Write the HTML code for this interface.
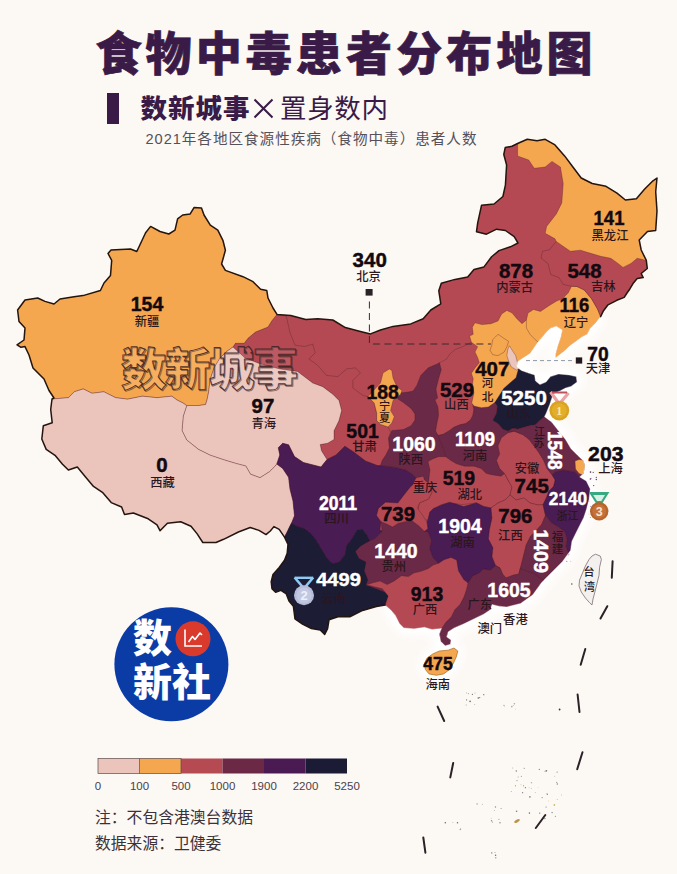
<!DOCTYPE html>
<html lang="zh-CN">
<head>
<meta charset="utf-8">
<title>食物中毒患者分布地图</title>
<style>
html,body{margin:0;padding:0;background:#fcf8f4;}
body{width:677px;height:874px;overflow:hidden;position:relative;font-family:"Liberation Sans", "Noto Sans CJK SC", sans-serif;}
svg{position:absolute;left:0;top:0;display:block;}
text{font-family:"Liberation Sans", "Noto Sans CJK SC", sans-serif;}
.num{font-weight:700;font-size:20.5px;text-anchor:middle;}
.nm{font-size:12.3px;font-weight:500;text-anchor:middle;fill:#2a161c;}
.w{fill:#fff;stroke:#fff;stroke-width:0.45px;}
.k{fill:#120a10;stroke:#120a10;stroke-width:0.45px;}
</style>
</head>
<body>
<svg width="677" height="874" viewBox="0 0 677 874">
<defs>
<clipPath id="cn"><polygon points="52.0,399.0 54.0,398.0 49.0,390.5 44.0,379.0 33.0,368.0 29.0,355.0 25.0,346.6 21.0,347.3 17.0,344.8 24.0,340.0 25.0,328.0 19.0,321.5 17.6,310.0 25.0,300.0 37.7,298.0 45.0,301.4 54.0,304.0 60.0,299.0 74.0,296.7 83.0,295.6 100.4,290.5 104.0,283.0 110.5,275.4 111.7,260.3 108.0,253.5 111.0,250.0 130.5,249.0 136.8,251.5 145.6,232.7 150.6,226.4 160.0,231.5 168.8,234.0 175.0,230.2 177.6,218.9 182.7,215.0 190.2,213.9 194.0,207.6 201.5,208.0 204.0,215.0 210.3,225.2 217.8,230.2 222.9,240.3 225.4,250.3 221.6,264.0 225.4,270.4 243.0,276.7 253.0,281.7 260.6,289.2 266.8,290.5 268.0,298.0 273.0,308.0 277.0,314.4 290.7,315.6 305.8,319.4 317.7,318.8 332.8,320.0 345.3,327.6 360.4,331.4 370.5,333.9 380.5,330.0 393.0,326.4 410.7,323.9 423.2,318.8 430.8,310.0 440.8,303.8 438.8,290.8 441.3,283.2 455.0,279.4 467.7,277.0 474.0,269.4 484.0,266.9 491.6,256.8 499.0,250.6 510.4,246.8 518.0,243.0 514.2,236.7 505.4,230.5 496.6,229.2 486.5,234.2 476.5,231.7 477.7,222.9 481.5,205.3 494.0,204.0 502.9,196.5 505.4,185.2 506.6,165.0 503.8,154.5 505.2,147.6 512.0,146.2 517.6,143.5 527.3,139.3 537.0,140.7 545.2,139.3 555.0,144.9 564.6,155.9 572.9,167.0 581.2,178.0 592.2,183.5 606.0,186.3 617.0,193.2 625.4,200.0 636.4,198.7 644.7,189.0 653.0,180.8 657.0,178.0 655.7,191.8 657.0,211.0 655.7,230.5 647.5,231.5 639.2,240.0 641.2,250.0 646.3,260.4 647.3,268.5 641.2,273.5 643.2,277.6 637.2,278.6 633.0,283.6 630.0,288.7 627.0,293.0 624.2,297.4 616.8,300.3 608.0,304.8 603.5,310.7 600.6,316.6 596.0,322.5 590.2,328.4 587.3,334.3 581.4,337.3 575.5,341.7 569.5,346.0 565.0,350.6 559.2,355.0 555.5,358.0 555.5,354.0 557.7,346.0 560.7,337.3 562.2,329.9 556.2,326.2 550.3,328.4 547.0,331.4 542.6,336.7 538.0,342.0 533.7,348.3 530.0,353.6 523.0,358.0 517.7,361.6 516.8,366.9 521.3,370.4 528.4,373.0 534.6,374.9 535.5,381.0 539.9,384.6 546.0,382.0 550.5,376.6 558.5,374.0 569.0,374.9 576.2,376.6 577.0,382.0 571.0,386.4 565.6,388.0 560.3,390.8 553.3,393.7 549.8,404.3 546.2,413.2 544.5,416.7 551.6,422.0 558.7,431.0 565.7,439.8 571.0,448.7 578.0,455.7 583.5,461.0 585.0,465.4 583.7,473.2 579.7,477.0 586.3,481.0 590.2,488.9 589.0,499.3 586.3,509.8 583.7,517.6 579.7,525.5 575.8,533.3 571.9,541.2 570.6,550.3 562.5,561.5 552.0,572.0 541.5,582.5 532.8,594.8 520.5,603.5 506.5,607.0 499.0,606.2 492.0,604.5 490.3,609.8 483.6,614.2 473.3,619.2 464.4,623.6 454.0,628.0 448.2,631.8 446.7,637.0 451.0,639.9 450.4,644.3 445.2,645.8 440.8,641.4 439.3,634.0 441.5,628.5 432.0,629.5 424.5,627.3 414.2,628.8 403.9,628.0 399.4,623.6 395.0,614.8 391.0,610.0 385.2,605.0 376.4,606.5 361.6,610.9 349.8,616.8 338.0,616.8 329.0,619.8 327.6,628.6 324.7,634.5 320.2,630.0 311.4,628.6 302.5,624.2 295.0,619.0 294.3,613.5 293.4,606.4 289.0,601.0 286.3,594.0 281.0,590.4 275.6,592.2 272.0,588.7 271.2,581.6 273.0,574.5 279.2,567.4 284.5,560.3 287.2,553.2 288.0,544.3 284.5,537.2 279.2,529.3 273.9,526.6 270.3,531.0 266.0,534.6 259.0,530.4 250.2,527.5 238.4,532.0 223.6,539.3 216.0,542.5 202.8,542.5 197.0,533.6 191.0,526.2 180.7,521.8 167.4,523.3 160.0,530.7 157.0,524.8 148.2,518.8 133.4,513.0 124.5,514.4 121.6,507.0 111.2,502.6 102.4,492.3 93.5,486.4 84.7,476.0 77.3,467.0 68.4,470.0 62.5,464.2 55.0,455.3 46.2,449.4 41.8,439.0 43.3,425.8 52.2,422.8 50.7,409.5"/></clipPath>
<filter id="glow" x="-10%" y="-10%" width="120%" height="120%"><feGaussianBlur stdDeviation="4"/></filter>
<filter id="soft" x="-5%" y="-5%" width="110%" height="110%"><feGaussianBlur stdDeviation="0.35"/></filter>
</defs>
<rect x="0" y="0" width="677" height="874" fill="#fcf8f4"/>

<g fill="#3a1b47">
<text x="344" y="70.3" text-anchor="middle" font-size="46" font-weight="900" stroke="#3a1b47" stroke-width="0.7" textLength="497" lengthAdjust="spacing">食物中毒患者分布地图</text>
<rect x="107" y="93" width="12" height="31"/>
<text x="140.5" y="118" font-size="26.5" font-weight="900" textLength="109" lengthAdjust="spacing">数新城事</text>
<path d="M254.5 99.5 L272.5 117.5 M272.5 99.5 L254.5 117.5" stroke="#3a1b47" stroke-width="2" fill="none"/>
<text x="280" y="118" font-size="26.5" font-weight="400" textLength="108" lengthAdjust="spacing">置身数内</text>
</g>
<text x="145.5" y="144" font-size="14.6" fill="#55505a" textLength="331" lengthAdjust="spacing">2021年各地区食源性疾病（食物中毒）患者人数</text>

<g filter="url(#glow)"><polyline points="600.6,316.6 596.0,322.5 590.2,328.4 587.3,334.3 581.4,337.3 575.5,341.7 569.5,346.0 565.0,350.6 559.2,355.0 555.5,358.0 555.5,354.0 557.7,346.0 560.7,337.3 562.2,329.9 556.2,326.2 550.3,328.4 547.0,331.4 542.6,336.7 538.0,342.0 533.7,348.3 530.0,353.6 523.0,358.0 517.7,361.6 516.8,366.9 521.3,370.4 528.4,373.0 534.6,374.9 535.5,381.0 539.9,384.6 546.0,382.0 550.5,376.6 558.5,374.0 569.0,374.9 576.2,376.6 577.0,382.0 571.0,386.4 565.6,388.0 560.3,390.8 553.3,393.7 549.8,404.3 546.2,413.2 544.5,416.7 551.6,422.0 558.7,431.0 565.7,439.8 571.0,448.7 578.0,455.7 583.5,461.0 585.0,465.4 583.7,473.2 579.7,477.0 586.3,481.0 590.2,488.9 589.0,499.3 586.3,509.8 583.7,517.6 579.7,525.5 575.8,533.3 571.9,541.2 570.6,550.3 562.5,561.5 552.0,572.0 541.5,582.5 532.8,594.8 520.5,603.5 506.5,607.0 499.0,606.2 492.0,604.5 490.3,609.8 483.6,614.2 473.3,619.2 464.4,623.6 454.0,628.0 448.2,631.8 446.7,637.0 451.0,639.9 450.4,644.3 445.2,645.8 440.8,641.4 439.3,634.0 441.5,628.5 432.0,629.5 424.5,627.3 414.2,628.8 403.9,628.0 399.4,623.6 395.0,614.8 391.0,610.0 385.2,605.0" fill="none" stroke="#ffffff" stroke-width="15" stroke-linejoin="round" stroke-linecap="butt"/><polygon points="432.7,654.0 439.3,651.0 448.2,650.2 454.0,648.0 457.8,651.0 456.3,656.9 453.3,663.5 449.7,669.4 443.7,673.9 436.4,675.3 429.0,673.9 425.3,669.4 424.5,663.5 426.8,658.3" fill="#fff" stroke="#fff" stroke-width="12"/></g>
<g filter="url(#soft)">
<g clip-path="url(#cn)" stroke="#4a2028" stroke-opacity="0.55" stroke-width="0.6" stroke-linejoin="round">
<polygon points="52.0,399.0 54.0,398.0 49.0,390.5 44.0,379.0 33.0,368.0 29.0,355.0 25.0,346.6 21.0,347.3 17.0,344.8 24.0,340.0 25.0,328.0 19.0,321.5 17.6,310.0 25.0,300.0 37.7,298.0 45.0,301.4 54.0,304.0 60.0,299.0 74.0,296.7 83.0,295.6 100.4,290.5 104.0,283.0 110.5,275.4 111.7,260.3 108.0,253.5 111.0,250.0 130.5,249.0 136.8,251.5 145.6,232.7 150.6,226.4 160.0,231.5 168.8,234.0 175.0,230.2 177.6,218.9 182.7,215.0 190.2,213.9 194.0,207.6 201.5,208.0 204.0,215.0 210.3,225.2 217.8,230.2 222.9,240.3 225.4,250.3 221.6,264.0 225.4,270.4 243.0,276.7 253.0,281.7 260.6,289.2 266.8,290.5 268.0,298.0 273.0,308.0 277.0,314.4 290.7,315.6 305.8,319.4 317.7,318.8 332.8,320.0 345.3,327.6 360.4,331.4 370.5,333.9 380.5,330.0 393.0,326.4 410.7,323.9 423.2,318.8 430.8,310.0 440.8,303.8 438.8,290.8 441.3,283.2 455.0,279.4 467.7,277.0 474.0,269.4 484.0,266.9 491.6,256.8 499.0,250.6 510.4,246.8 518.0,243.0 514.2,236.7 505.4,230.5 496.6,229.2 486.5,234.2 476.5,231.7 477.7,222.9 481.5,205.3 494.0,204.0 502.9,196.5 505.4,185.2 506.6,165.0 503.8,154.5 505.2,147.6 512.0,146.2 517.6,143.5 527.3,139.3 537.0,140.7 545.2,139.3 555.0,144.9 564.6,155.9 572.9,167.0 581.2,178.0 592.2,183.5 606.0,186.3 617.0,193.2 625.4,200.0 636.4,198.7 644.7,189.0 653.0,180.8 657.0,178.0 655.7,191.8 657.0,211.0 655.7,230.5 647.5,231.5 639.2,240.0 641.2,250.0 646.3,260.4 647.3,268.5 641.2,273.5 643.2,277.6 637.2,278.6 633.0,283.6 630.0,288.7 627.0,293.0 624.2,297.4 616.8,300.3 608.0,304.8 603.5,310.7 600.6,316.6 596.0,322.5 590.2,328.4 587.3,334.3 581.4,337.3 575.5,341.7 569.5,346.0 565.0,350.6 559.2,355.0 555.5,358.0 555.5,354.0 557.7,346.0 560.7,337.3 562.2,329.9 556.2,326.2 550.3,328.4 547.0,331.4 542.6,336.7 538.0,342.0 533.7,348.3 530.0,353.6 523.0,358.0 517.7,361.6 516.8,366.9 521.3,370.4 528.4,373.0 534.6,374.9 535.5,381.0 539.9,384.6 546.0,382.0 550.5,376.6 558.5,374.0 569.0,374.9 576.2,376.6 577.0,382.0 571.0,386.4 565.6,388.0 560.3,390.8 553.3,393.7 549.8,404.3 546.2,413.2 544.5,416.7 551.6,422.0 558.7,431.0 565.7,439.8 571.0,448.7 578.0,455.7 583.5,461.0 585.0,465.4 583.7,473.2 579.7,477.0 586.3,481.0 590.2,488.9 589.0,499.3 586.3,509.8 583.7,517.6 579.7,525.5 575.8,533.3 571.9,541.2 570.6,550.3 562.5,561.5 552.0,572.0 541.5,582.5 532.8,594.8 520.5,603.5 506.5,607.0 499.0,606.2 492.0,604.5 490.3,609.8 483.6,614.2 473.3,619.2 464.4,623.6 454.0,628.0 448.2,631.8 446.7,637.0 451.0,639.9 450.4,644.3 445.2,645.8 440.8,641.4 439.3,634.0 441.5,628.5 432.0,629.5 424.5,627.3 414.2,628.8 403.9,628.0 399.4,623.6 395.0,614.8 391.0,610.0 385.2,605.0 376.4,606.5 361.6,610.9 349.8,616.8 338.0,616.8 329.0,619.8 327.6,628.6 324.7,634.5 320.2,630.0 311.4,628.6 302.5,624.2 295.0,619.0 294.3,613.5 293.4,606.4 289.0,601.0 286.3,594.0 281.0,590.4 275.6,592.2 272.0,588.7 271.2,581.6 273.0,574.5 279.2,567.4 284.5,560.3 287.2,553.2 288.0,544.3 284.5,537.2 279.2,529.3 273.9,526.6 270.3,531.0 266.0,534.6 259.0,530.4 250.2,527.5 238.4,532.0 223.6,539.3 216.0,542.5 202.8,542.5 197.0,533.6 191.0,526.2 180.7,521.8 167.4,523.3 160.0,530.7 157.0,524.8 148.2,518.8 133.4,513.0 124.5,514.4 121.6,507.0 111.2,502.6 102.4,492.3 93.5,486.4 84.7,476.0 77.3,467.0 68.4,470.0 62.5,464.2 55.0,455.3 46.2,449.4 41.8,439.0 43.3,425.8 52.2,422.8 50.7,409.5" fill="#b54a52" stroke="none"/>
<polygon points="286.3,316.0 290.0,332.7 295.0,345.2 305.0,346.5 312.7,344.0 315.2,352.8 308.9,359.0 317.7,365.3 326.5,375.4 337.8,376.6 346.6,369.0 355.4,367.8 360.4,372.9 352.9,380.4 352.9,388.0 363.0,395.5 368.0,396.7 374.2,403.0 376.7,413.0 376.7,420.6 380.5,424.4 388.0,426.9 390.6,432.0 388.6,438.0 389.5,447.9 386.0,455.0 382.4,460.3 380.6,465.6 377.3,465.5 365.4,461.0 353.6,452.0 344.8,446.2 336.0,455.0 327.0,459.5 321.5,450.8 320.2,444.5 327.7,443.2 334.0,439.4 334.0,430.7 339.0,420.6 341.6,410.6 339.0,400.5 332.8,394.2 322.7,386.7 312.7,383.0 297.6,371.5 280.0,369.0 262.0,364.5 245.0,358.0 233.0,347.0 233.0,347.0 235.4,343.3 244.2,343.3 248.0,338.2 255.5,332.0 268.0,327.0 271.9,320.7 277.0,314.4" fill="#b54a52"/>
<polygon points="0.0,150.0 300.0,150.0 300.0,300.0 277.0,314.4 271.9,320.7 268.0,327.0 255.5,332.0 248.0,338.2 244.2,343.3 235.4,343.3 233.0,347.0 226.0,352.0 220.0,358.0 214.0,368.0 210.0,380.0 208.7,391.8 207.0,400.0 205.6,404.5 199.0,405.5 190.0,405.5 186.7,405.6 183.0,403.0 177.0,400.0 171.8,396.2 157.0,397.7 142.3,396.2 127.5,399.2 115.7,397.7 103.9,391.8 92.0,393.3 83.2,388.9 74.3,391.8 68.4,397.7 52.2,399.0 0.0,399.0" fill="#f5a750"/>
<polygon points="186.7,405.6 190.0,405.5 199.0,405.5 205.6,404.5 207.0,400.0 208.7,391.8 210.0,380.0 214.0,368.0 220.0,358.0 226.0,352.0 233.0,347.0 245.0,358.0 262.0,364.5 280.0,369.0 297.6,371.5 312.7,383.0 322.7,386.7 332.8,394.2 339.0,400.5 341.6,410.6 339.0,420.6 334.0,430.7 334.0,439.4 327.7,443.2 320.2,444.5 321.5,450.8 327.0,459.5 321.0,467.0 303.4,462.5 294.5,456.6 288.6,444.8 282.7,443.3 278.3,447.7 279.8,455.0 276.8,464.0 275.3,466.0 269.4,471.8 260.0,477.7 250.5,474.2 245.8,466.0 236.4,463.6 224.5,460.0 210.4,455.3 198.5,449.4 186.7,440.0 182.0,430.5 183.2,416.3 186.7,405.6" fill="#ebc5bc"/>
<polygon points="52.2,399.0 68.4,397.7 74.3,391.8 83.2,388.9 92.0,393.3 103.9,391.8 115.7,397.7 127.5,399.2 142.3,396.2 157.0,397.7 171.8,396.2 177.0,400.0 183.0,403.0 186.7,405.6 183.2,416.3 182.0,430.5 186.7,440.0 198.5,449.4 210.4,455.3 224.5,460.0 236.4,463.6 245.8,466.0 250.5,474.2 260.0,477.7 269.4,471.8 275.3,466.0 276.8,464.0 282.7,468.4 288.6,477.3 290.0,489.0 293.0,501.0 294.5,515.7 291.6,523.0 289.8,526.6 287.2,532.0 284.5,537.2 290.0,560.0 0.0,560.0 0.0,399.0" fill="#ebc5bc"/>
<polygon points="439.5,362.7 443.0,361.0 446.6,359.0 450.0,353.8 455.5,349.4 462.5,346.7 471.4,342.3 490.0,350.0 490.0,410.0 472.9,404.7 474.0,409.5 472.9,415.4 470.6,420.0 465.8,423.6 460.0,424.8 454.0,427.2 449.3,430.7 443.4,434.3 438.0,435.5 425.0,420.0 425.0,380.0" fill="#b54a52"/>
<polygon points="439.5,362.7 441.3,369.8 438.6,378.7 436.0,389.3 437.7,398.0 435.0,400.0 438.0,407.0 438.6,415.4 436.9,423.6 435.7,430.7 438.0,435.5 442.0,445.0 445.0,453.0 445.7,456.7 438.6,456.7 432.7,459.0 430.0,470.0 428.5,483.3 424.5,480.0 423.2,476.2 416.0,478.0 412.6,474.5 405.5,470.0 394.8,467.4 380.6,465.6 382.4,460.3 386.0,455.0 389.5,447.9 388.6,438.0 390.0,435.3 391.8,430.5 403.3,429.5 411.0,425.7 414.9,420.0 414.9,414.0 411.0,408.4 403.3,402.6 397.6,398.8 399.5,393.0 408.0,392.0 413.0,391.0 416.8,385.4 420.7,375.4 428.2,367.8 437.0,364.0" fill="#6b2946"/>
<polygon points="389.3,369.0 383.0,372.9 380.5,383.0 374.0,390.0 368.0,396.7 374.2,403.0 376.7,413.0 376.7,420.6 380.5,424.4 388.0,426.9 391.8,423.0 394.3,416.8 390.6,410.6 393.0,400.5 400.6,394.2 401.9,390.5 396.8,386.7 393.0,377.9 391.8,370.4" fill="#f5a750"/>
<polygon points="438.0,435.5 443.4,434.3 449.3,430.7 454.0,427.2 460.0,424.8 465.8,423.6 470.6,420.0 472.9,415.4 474.0,409.5 472.9,404.7 473.5,398.0 520.0,398.0 520.0,440.0 510.0,482.0 440.0,472.0 445.7,456.7 445.0,453.0 442.0,445.0" fill="#6b2946"/>
<polygon points="506.9,310.4 501.6,313.9 498.0,321.0 490.9,323.7 482.0,324.6 475.0,322.8 472.3,327.2 473.2,334.3 469.6,336.0 471.4,342.3 477.6,346.7 475.0,352.0 477.6,357.4 479.4,362.7 475.0,368.0 471.4,373.3 473.2,378.7 472.3,385.7 474.0,392.8 471.7,403.0 474.0,406.0 481.2,407.7 488.3,407.0 493.0,403.8 494.8,402.6 530.0,395.0 545.0,340.0 540.0,320.0 526.4,320.0 522.0,323.7 516.6,318.4 512.2,313.0" fill="#f5a750"/>
<polygon points="498.0,334.3 503.3,337.9 508.6,341.4 506.9,346.7 504.2,352.0 498.0,355.6 492.7,354.7 490.0,350.3 491.8,345.0 492.7,339.6 495.4,337.0" fill="#f5a750"/>
<polygon points="509.5,345.8 512.2,350.3 515.7,355.6 517.5,362.7 520.0,368.0 516.6,370.0 511.3,367.0 508.6,361.0 506.9,355.6 507.8,349.4" fill="#ebc5bc"/>
<polygon points="571.5,286.2 568.3,292.8 562.3,298.8 556.7,301.0 549.3,305.5 540.4,311.4 533.5,309.5 528.0,313.0 526.4,320.0 526.4,328.0 530.0,334.3 535.2,339.6 538.0,342.0 555.0,364.0 625.0,335.0 625.0,310.0 600.6,316.6 597.6,309.2 591.7,298.9 584.3,290.0 577.0,286.5" fill="#f5a750"/>
<polygon points="556.3,241.5 549.4,249.8 542.5,251.2 541.0,258.0 548.0,263.6 550.8,274.7 559.0,277.5 563.2,284.4 568.7,285.7 571.5,286.2 577.0,286.5 584.3,290.0 591.7,298.9 597.6,309.2 600.6,316.6 615.0,322.0 670.0,300.0 670.0,230.0 600.0,230.0" fill="#b54a52"/>
<polygon points="517.6,143.5 517.6,156.0 528.7,160.0 534.2,168.3 545.2,167.0 552.0,161.4 560.4,167.0 563.2,183.5 561.8,202.9 556.3,214.0 546.6,226.4 545.2,233.3 555.0,238.8 556.3,241.5 560.2,244.2 570.4,251.3 580.5,250.2 590.6,253.3 600.7,256.3 610.8,258.3 618.0,263.4 623.0,267.4 631.0,263.4 637.2,258.3 646.3,260.4 670.0,262.0 670.0,120.0 510.0,120.0" fill="#f5a750"/>
<polygon points="518.4,369.0 516.0,377.7 509.9,383.0 503.7,388.4 499.3,395.5 494.8,402.6 497.5,406.0 496.6,413.2 493.0,420.3 498.4,423.8 502.8,429.0 508.0,431.0 512.6,428.3 517.9,429.0 523.2,427.4 530.3,425.6 535.6,424.7 540.0,420.3 544.5,416.7 560.0,420.0 590.0,390.0 590.0,360.0 530.0,360.0" fill="#1b1b36"/>
<polygon points="428.5,483.3 430.0,470.0 428.0,461.5 432.7,459.0 438.6,456.7 445.7,456.7 450.5,460.3 456.4,463.8 464.6,466.2 474.0,466.2 481.2,468.6 486.0,473.3 490.3,474.5 501.0,476.2 504.6,473.5 508.0,480.0 512.0,487.0 510.0,495.0 505.0,500.0 498.0,503.0 491.0,508.0 483.5,506.4 476.4,502.8 462.2,504.6 449.8,502.8 441.0,504.6 430.3,511.7 428.5,520.0 423.0,520.0 417.9,510.0 419.6,502.8 428.5,499.0 432.0,492.0" fill="#b54a52"/>
<polygon points="514.4,431.2 507.9,432.9 501.4,437.7 498.0,445.9 499.7,454.0 496.5,460.5 499.7,468.6 504.6,473.5 508.0,480.0 512.0,487.0 510.0,495.0 516.0,500.0 524.0,498.0 530.0,503.0 538.0,505.0 543.0,504.6 560.0,500.0 565.0,470.0 540.0,432.0 522.5,434.5" fill="#b54a52"/>
<polygon points="514.4,431.2 522.5,434.5 529.0,439.4 533.9,445.9 538.7,452.4 543.6,460.5 546.9,468.6 552.0,475.0 555.5,472.0 563.0,470.0 574.5,472.0 579.7,477.0 600.0,470.0 600.0,420.0 544.5,416.7 540.0,420.3 535.6,424.7 530.3,425.6 523.2,427.4 517.9,429.0 512.6,428.3 508.0,431.0" fill="#6b2946"/>
<polygon points="575.0,461.0 579.0,459.5 590.0,461.0 592.0,470.0 584.0,475.5 579.0,473.5 575.5,469.0" fill="#f5a750"/>
<polygon points="276.8,464.0 279.8,455.0 278.3,447.7 282.7,443.3 288.6,444.8 294.5,456.6 303.4,462.5 321.0,467.0 327.0,459.5 336.0,455.0 344.8,446.2 353.6,452.0 365.4,461.0 377.3,465.5 380.6,465.6 394.8,467.4 405.5,470.0 412.6,474.5 416.0,478.0 420.0,500.0 400.0,530.0 375.0,545.0 340.0,570.0 300.0,540.0 288.0,544.3 284.5,537.2 287.2,532.0 289.8,526.6 291.6,523.0 294.5,515.7 293.0,501.0 290.0,489.0 288.6,477.3 282.7,468.4" fill="#4a1a52"/>
<polygon points="416.0,478.0 423.2,476.2 424.5,480.0 428.5,483.3 432.0,492.0 428.5,499.0 419.6,502.8 417.5,508.0 422.7,515.5 427.0,522.0 428.0,528.8 424.5,531.4 420.0,536.0 400.0,536.0 380.0,530.0 381.0,521.7 376.6,515.5 378.4,508.4 385.5,502.2 397.9,503.0 403.2,496.0 410.3,487.0 412.6,485.0" fill="#b54a52"/>
<polygon points="427.0,522.0 428.0,519.0 429.8,512.0 433.3,508.4 442.2,504.8 449.3,502.2 456.4,504.0 463.5,506.6 476.4,502.8 483.5,506.4 491.0,508.0 500.0,510.0 500.0,575.0 480.0,592.0 450.0,582.0 435.0,572.0 420.0,550.0 420.0,535.0 424.5,531.4 428.0,528.8" fill="#4a1a52"/>
<polygon points="491.0,508.0 498.0,503.0 505.0,500.0 510.0,495.0 516.0,500.0 524.0,498.0 530.0,503.0 538.0,505.0 543.0,504.6 545.5,515.5 541.8,524.3 536.6,530.2 530.7,536.0 526.2,545.0 523.3,556.8 520.3,568.6 518.9,574.0 513.3,575.2 506.0,577.9 502.7,574.3 500.0,568.0 495.6,565.5 492.0,556.6 493.0,547.7 488.5,538.9 489.4,530.0 492.0,518.0" fill="#b54a52"/>
<polygon points="552.0,475.0 555.0,480.0 553.4,486.5 548.5,491.4 546.9,496.2 543.0,504.6 545.5,515.5 551.4,522.8 558.7,527.3 564.7,531.7 566.9,539.0 566.0,546.5 568.5,554.5 580.0,556.0 600.0,520.0 600.0,478.0 579.7,477.0 574.5,472.0 563.0,470.0 555.5,472.0" fill="#4a1a52"/>
<polygon points="545.5,515.5 551.4,522.8 558.7,527.3 564.7,531.7 566.9,539.0 566.0,546.5 568.5,554.5 590.0,570.0 560.0,595.0 520.0,585.0 518.9,576.0 520.3,568.6 523.3,556.8 526.2,545.0 530.7,536.0 536.6,530.2 541.8,524.3" fill="#6b2946"/>
<polygon points="369.6,540.8 374.8,538.5 382.0,531.4 381.0,521.7 387.2,524.3 392.6,527.0 397.9,523.4 405.0,521.7 412.0,520.8 419.0,526.0 424.5,531.4 428.0,531.4 431.6,540.3 429.8,549.0 433.3,558.0 438.7,563.3 436.0,576.0 400.0,592.0 370.0,594.0 350.0,580.0 350.0,548.0" fill="#6b2946"/>
<polygon points="291.6,523.0 297.0,526.6 304.0,528.4 311.0,533.7 316.4,540.8 321.7,549.6 327.0,558.5 332.4,563.8 339.5,562.0 344.8,555.0 346.6,546.0 351.9,539.0 357.2,530.0 362.5,529.3 367.0,535.5 369.6,540.8 360.7,546.0 355.4,551.4 359.0,558.5 366.0,562.0 364.3,571.0 367.8,579.8 366.0,585.0 395.0,596.0 395.0,640.0 260.0,640.0 260.0,552.0 288.0,544.3 284.5,537.2 287.2,532.0 289.8,526.6" fill="#1b1b36"/>
<polygon points="366.0,585.0 373.0,582.8 380.0,581.0 387.2,584.6 394.3,581.0 401.4,575.7 408.5,576.6 413.8,573.0 421.0,571.3 428.0,568.7 433.3,565.0 438.7,563.3 444.0,559.8 451.0,557.5 456.6,560.0 458.4,570.8 463.7,579.6 468.0,583.0 482.0,600.0 450.0,640.0 385.0,640.0 385.2,605.0 388.2,596.0 382.3,588.7 370.4,585.8" fill="#b54a52"/>
<polygon points="441.5,629.3 442.4,627.5 446.0,622.0 451.3,616.9 454.8,609.8 460.0,604.5 463.7,597.4 466.3,590.3 468.0,583.0 472.5,576.0 479.6,572.5 483.0,569.0 490.3,570.0 495.6,565.5 500.0,568.0 502.7,574.3 506.0,577.9 513.3,575.2 518.9,574.0 520.3,568.6 527.0,571.0 534.0,573.5 540.0,578.0 546.0,581.0 560.0,590.0 560.0,660.0 430.0,660.0 430.0,640.0" fill="#6b2946"/>
</g>
<polyline points="600.6,316.6 596.0,322.5 590.2,328.4 587.3,334.3 581.4,337.3 575.5,341.7 569.5,346.0 565.0,350.6 559.2,355.0 555.5,358.0 555.5,354.0 557.7,346.0 560.7,337.3 562.2,329.9 556.2,326.2 550.3,328.4 547.0,331.4 542.6,336.7 538.0,342.0 533.7,348.3 530.0,353.6 523.0,358.0 517.7,361.6 516.8,366.9 521.3,370.4 528.4,373.0 534.6,374.9 535.5,381.0 539.9,384.6 546.0,382.0 550.5,376.6 558.5,374.0 569.0,374.9 576.2,376.6 577.0,382.0 571.0,386.4 565.6,388.0 560.3,390.8 553.3,393.7 549.8,404.3 546.2,413.2 544.5,416.7 551.6,422.0 558.7,431.0 565.7,439.8 571.0,448.7 578.0,455.7 583.5,461.0 585.0,465.4 583.7,473.2 579.7,477.0 586.3,481.0 590.2,488.9 589.0,499.3 586.3,509.8 583.7,517.6 579.7,525.5 575.8,533.3 571.9,541.2 570.6,550.3 562.5,561.5 552.0,572.0 541.5,582.5 532.8,594.8 520.5,603.5 506.5,607.0 499.0,606.2 492.0,604.5 490.3,609.8 483.6,614.2 473.3,619.2 464.4,623.6 454.0,628.0 448.2,631.8 446.7,637.0 451.0,639.9 450.4,644.3 445.2,645.8 440.8,641.4 439.3,634.0 441.5,628.5 432.0,629.5 424.5,627.3 414.2,628.8 403.9,628.0 399.4,623.6 395.0,614.8 391.0,610.0 385.2,605.0" fill="none" stroke="#ffffff" stroke-opacity="0.55" stroke-width="0.8" stroke-linejoin="round"/>
<polyline points="385.2,605.0 376.4,606.5 361.6,610.9 349.8,616.8 338.0,616.8 329.0,619.8 327.6,628.6 324.7,634.5 320.2,630.0 311.4,628.6 302.5,624.2 295.0,619.0 294.3,613.5 293.4,606.4 289.0,601.0 286.3,594.0 281.0,590.4 275.6,592.2 272.0,588.7 271.2,581.6 273.0,574.5 279.2,567.4 284.5,560.3 287.2,553.2 288.0,544.3 284.5,537.2 279.2,529.3 273.9,526.6 270.3,531.0 266.0,534.6 259.0,530.4 250.2,527.5 238.4,532.0 223.6,539.3 216.0,542.5 202.8,542.5 197.0,533.6 191.0,526.2 180.7,521.8 167.4,523.3 160.0,530.7 157.0,524.8 148.2,518.8 133.4,513.0 124.5,514.4 121.6,507.0 111.2,502.6 102.4,492.3 93.5,486.4 84.7,476.0 77.3,467.0 68.4,470.0 62.5,464.2 55.0,455.3 46.2,449.4 41.8,439.0 43.3,425.8 52.2,422.8 50.7,409.5 52.0,399.0 54.0,398.0 49.0,390.5 44.0,379.0 33.0,368.0 29.0,355.0 25.0,346.6 21.0,347.3 17.0,344.8 24.0,340.0 25.0,328.0 19.0,321.5 17.6,310.0 25.0,300.0 37.7,298.0 45.0,301.4 54.0,304.0 60.0,299.0 74.0,296.7 83.0,295.6 100.4,290.5 104.0,283.0 110.5,275.4 111.7,260.3 108.0,253.5 111.0,250.0 130.5,249.0 136.8,251.5 145.6,232.7 150.6,226.4 160.0,231.5 168.8,234.0 175.0,230.2 177.6,218.9 182.7,215.0 190.2,213.9 194.0,207.6 201.5,208.0 204.0,215.0 210.3,225.2 217.8,230.2 222.9,240.3 225.4,250.3 221.6,264.0 225.4,270.4 243.0,276.7 253.0,281.7 260.6,289.2 266.8,290.5 268.0,298.0 273.0,308.0 277.0,314.4 290.7,315.6 305.8,319.4 317.7,318.8 332.8,320.0 345.3,327.6 360.4,331.4 370.5,333.9 380.5,330.0 393.0,326.4 410.7,323.9 423.2,318.8 430.8,310.0 440.8,303.8 438.8,290.8 441.3,283.2 455.0,279.4 467.7,277.0 474.0,269.4 484.0,266.9 491.6,256.8 499.0,250.6 510.4,246.8 518.0,243.0 514.2,236.7 505.4,230.5 496.6,229.2 486.5,234.2 476.5,231.7 477.7,222.9 481.5,205.3 494.0,204.0 502.9,196.5 505.4,185.2 506.6,165.0 503.8,154.5 505.2,147.6 512.0,146.2 517.6,143.5 527.3,139.3 537.0,140.7 545.2,139.3 555.0,144.9 564.6,155.9 572.9,167.0 581.2,178.0 592.2,183.5 606.0,186.3 617.0,193.2 625.4,200.0 636.4,198.7 644.7,189.0 653.0,180.8 657.0,178.0 655.7,191.8 657.0,211.0 655.7,230.5 647.5,231.5 639.2,240.0 641.2,250.0 646.3,260.4 647.3,268.5 641.2,273.5 643.2,277.6 637.2,278.6 633.0,283.6 630.0,288.7 627.0,293.0 624.2,297.4 616.8,300.3 608.0,304.8 603.5,310.7 600.6,316.6" fill="none" stroke="#24140f" stroke-width="1.5" stroke-linejoin="round" stroke-linecap="round"/>
<polygon points="432.7,654.0 439.3,651.0 448.2,650.2 454.0,648.0 457.8,651.0 456.3,656.9 453.3,663.5 449.7,669.4 443.7,673.9 436.4,675.3 429.0,673.9 425.3,669.4 424.5,663.5 426.8,658.3" fill="#f5a750" stroke="#a86a2a" stroke-width="0.7" stroke-linejoin="round"/>
<polygon points="595.5,554.2 600.2,556.0 601.4,559.5 599.6,567.2 599.0,575.5 596.6,585.0 594.9,592.0 593.0,599.0 592.0,605.0 589.5,602.6 585.4,598.0 581.3,592.0 579.0,586.0 579.5,580.2 582.5,573.0 585.4,566.0 589.0,559.5 592.0,556.0" fill="#f3f0ee" stroke="#7a7078" stroke-width="0.8" stroke-linejoin="round"/>
<line x1="612.6" y1="561.3" x2="611.8" y2="577.8" stroke="#2a2228" stroke-width="2" stroke-linecap="round"/>
<line x1="607.3" y1="606.2" x2="600.5" y2="618.5" stroke="#2a2228" stroke-width="2" stroke-linecap="round"/>
<line x1="585.3" y1="649" x2="580.7" y2="664.8" stroke="#2a2228" stroke-width="2" stroke-linecap="round"/>
<line x1="577.6" y1="694.5" x2="579.5" y2="712" stroke="#2a2228" stroke-width="2" stroke-linecap="round"/>
<line x1="582.5" y1="752.3" x2="577.2" y2="769.2" stroke="#2a2228" stroke-width="2" stroke-linecap="round"/>
<line x1="437.6" y1="706.6" x2="444.2" y2="721" stroke="#2a2228" stroke-width="2" stroke-linecap="round"/>
<line x1="453.2" y1="763" x2="450.3" y2="777.4" stroke="#2a2228" stroke-width="2" stroke-linecap="round"/>
<line x1="545.3" y1="815" x2="535.8" y2="828" stroke="#2a2228" stroke-width="2" stroke-linecap="round"/>
<line x1="423.3" y1="837.5" x2="425.4" y2="852.7" stroke="#2a2228" stroke-width="2" stroke-linecap="round"/>
</g>
<g><circle cx="472.4" cy="694.3" r="0.64" fill="#4a4448" fill-opacity="0.8"/><circle cx="466.7" cy="700.0" r="0.51" fill="#4a4448" fill-opacity="0.8"/><circle cx="466.3" cy="699.6" r="0.37" fill="#4a4448" fill-opacity="0.8"/><circle cx="475.0" cy="693.0" r="0.39" fill="#4a4448" fill-opacity="0.8"/><circle cx="474.8" cy="704.4" r="0.41" fill="#4a4448" fill-opacity="0.8"/><circle cx="470.1" cy="701.4" r="0.78" fill="#4a4448" fill-opacity="0.8"/><circle cx="478.3" cy="698.0" r="0.79" fill="#4a4448" fill-opacity="0.8"/><circle cx="466.1" cy="704.9" r="0.48" fill="#4a4448" fill-opacity="0.8"/><circle cx="468.3" cy="693.8" r="0.49" fill="#4a4448" fill-opacity="0.8"/><circle cx="483.8" cy="694.7" r="0.61" fill="#4a4448" fill-opacity="0.8"/><circle cx="479.7" cy="697.6" r="0.60" fill="#4a4448" fill-opacity="0.8"/><circle cx="466.4" cy="692.9" r="0.44" fill="#4a4448" fill-opacity="0.8"/><circle cx="513.6" cy="705.6" r="0.49" fill="#4a4448" fill-opacity="0.45"/><circle cx="512.0" cy="705.9" r="0.48" fill="#4a4448" fill-opacity="0.45"/><circle cx="515.5" cy="709.1" r="0.46" fill="#4a4448" fill-opacity="0.45"/><circle cx="511.8" cy="706.8" r="0.74" fill="#4a4448" fill-opacity="0.45"/><circle cx="514.4" cy="703.7" r="0.79" fill="#4a4448" fill-opacity="0.45"/><circle cx="504.0" cy="705.4" r="0.69" fill="#4a4448" fill-opacity="0.45"/><circle cx="504.6" cy="706.4" r="0.37" fill="#4a4448" fill-opacity="0.45"/><circle cx="546.1" cy="807.0" r="0.61" fill="#4a4448" fill-opacity="0.7"/><circle cx="557.3" cy="784.0" r="0.66" fill="#4a4448" fill-opacity="0.7"/><circle cx="542.1" cy="797.6" r="0.56" fill="#4a4448" fill-opacity="0.7"/><circle cx="555.4" cy="816.2" r="0.56" fill="#4a4448" fill-opacity="0.7"/><circle cx="545.9" cy="771.1" r="0.67" fill="#4a4448" fill-opacity="0.7"/><circle cx="544.9" cy="818.6" r="0.72" fill="#4a4448" fill-opacity="0.7"/><circle cx="525.4" cy="787.7" r="0.65" fill="#4a4448" fill-opacity="0.7"/><circle cx="511.2" cy="791.5" r="0.43" fill="#4a4448" fill-opacity="0.7"/><circle cx="516.3" cy="771.0" r="0.70" fill="#4a4448" fill-opacity="0.7"/><circle cx="517.0" cy="780.6" r="0.53" fill="#4a4448" fill-opacity="0.7"/><circle cx="557.1" cy="772.1" r="0.55" fill="#4a4448" fill-opacity="0.7"/><circle cx="539.7" cy="813.1" r="0.72" fill="#4a4448" fill-opacity="0.7"/><circle cx="556.7" cy="782.2" r="0.54" fill="#4a4448" fill-opacity="0.7"/><circle cx="529.4" cy="813.1" r="0.78" fill="#4a4448" fill-opacity="0.7"/><circle cx="518.1" cy="777.0" r="0.45" fill="#4a4448" fill-opacity="0.7"/><circle cx="522.6" cy="792.7" r="0.62" fill="#4a4448" fill-opacity="0.7"/><circle cx="524.2" cy="768.2" r="0.54" fill="#4a4448" fill-opacity="0.7"/><circle cx="529.9" cy="796.9" r="0.78" fill="#4a4448" fill-opacity="0.7"/><circle cx="547.3" cy="794.3" r="0.63" fill="#4a4448" fill-opacity="0.7"/><circle cx="546.5" cy="770.8" r="0.75" fill="#4a4448" fill-opacity="0.7"/><circle cx="552.1" cy="812.6" r="0.71" fill="#4a4448" fill-opacity="0.7"/><circle cx="531.2" cy="788.3" r="0.40" fill="#4a4448" fill-opacity="0.7"/><circle cx="544.3" cy="771.2" r="0.38" fill="#4a4448" fill-opacity="0.7"/><circle cx="521.3" cy="776.3" r="0.50" fill="#4a4448" fill-opacity="0.7"/><circle cx="512.8" cy="768.0" r="0.42" fill="#4a4448" fill-opacity="0.7"/><circle cx="515.5" cy="786.5" r="0.36" fill="#4a4448" fill-opacity="0.7"/><circle cx="557.2" cy="799.3" r="0.42" fill="#4a4448" fill-opacity="0.7"/><circle cx="523.6" cy="785.7" r="0.51" fill="#4a4448" fill-opacity="0.7"/><circle cx="516.6" cy="811.3" r="0.80" fill="#4a4448" fill-opacity="0.7"/><circle cx="535.2" cy="792.7" r="0.39" fill="#4a4448" fill-opacity="0.7"/><circle cx="515.5" cy="785.5" r="0.47" fill="#4a4448" fill-opacity="0.7"/><circle cx="554.8" cy="776.2" r="0.36" fill="#4a4448" fill-opacity="0.7"/><circle cx="561.4" cy="794.9" r="0.42" fill="#4a4448" fill-opacity="0.7"/><circle cx="539.3" cy="769.4" r="0.59" fill="#4a4448" fill-opacity="0.7"/><circle cx="554.2" cy="805.2" r="0.66" fill="#c9a24a" fill-opacity="0.8"/><circle cx="529.1" cy="787.8" r="0.43" fill="#c9a24a" fill-opacity="0.8"/><circle cx="547.0" cy="793.6" r="0.70" fill="#c9a24a" fill-opacity="0.8"/><circle cx="531.5" cy="782.8" r="0.72" fill="#c9a24a" fill-opacity="0.8"/><circle cx="554.5" cy="804.8" r="0.71" fill="#c9a24a" fill-opacity="0.8"/><circle cx="548.6" cy="800.9" r="0.45" fill="#c9a24a" fill-opacity="0.8"/><circle cx="538.1" cy="787.4" r="0.36" fill="#c9a24a" fill-opacity="0.8"/><circle cx="521.0" cy="784.8" r="0.47" fill="#c9a24a" fill-opacity="0.8"/><circle cx="492.5" cy="822.0" r="0.55" fill="#4a4448" fill-opacity="0.6"/><circle cx="500.0" cy="822.7" r="0.78" fill="#4a4448" fill-opacity="0.6"/><circle cx="482.3" cy="804.3" r="0.45" fill="#4a4448" fill-opacity="0.6"/><circle cx="477.1" cy="803.9" r="0.63" fill="#4a4448" fill-opacity="0.6"/><circle cx="498.9" cy="819.2" r="0.57" fill="#4a4448" fill-opacity="0.6"/><circle cx="491.2" cy="818.2" r="0.39" fill="#4a4448" fill-opacity="0.6"/><circle cx="491.5" cy="820.8" r="0.70" fill="#4a4448" fill-opacity="0.6"/><circle cx="494.3" cy="810.5" r="0.43" fill="#4a4448" fill-opacity="0.6"/><circle cx="495.5" cy="807.0" r="0.71" fill="#4a4448" fill-opacity="0.6"/><circle cx="501.1" cy="808.5" r="0.53" fill="#4a4448" fill-opacity="0.6"/><circle cx="460.0" cy="829.7" r="0.43" fill="#4a4448" fill-opacity="0.8"/><circle cx="445.3" cy="822.8" r="0.76" fill="#4a4448" fill-opacity="0.8"/><circle cx="457.5" cy="822.8" r="0.72" fill="#4a4448" fill-opacity="0.8"/><circle cx="460.6" cy="828.9" r="0.51" fill="#4a4448" fill-opacity="0.8"/><circle cx="452.9" cy="822.6" r="0.36" fill="#4a4448" fill-opacity="0.8"/><circle cx="495.8" cy="857.8" r="0.59" fill="#4a4448" fill-opacity="0.8"/><circle cx="495.6" cy="855.2" r="0.74" fill="#4a4448" fill-opacity="0.8"/><circle cx="495.0" cy="852.5" r="0.46" fill="#4a4448" fill-opacity="0.8"/><circle cx="491.8" cy="852.9" r="0.61" fill="#4a4448" fill-opacity="0.8"/><circle cx="559.6" cy="709.5" r="0.9" fill="#3a3438"/><circle cx="571.8" cy="584" r="0.8" fill="#5a5458"/><ellipse cx="517" cy="821" rx="3.2" ry="1.3" transform="rotate(-30 517 821)" fill="#b8954a"/><circle cx="591.1" cy="478.3" r="0.47" fill="#4a1a52" fill-opacity="0.9"/><circle cx="596.3" cy="477.3" r="0.63" fill="#4a1a52" fill-opacity="0.9"/><circle cx="593.7" cy="485.6" r="0.61" fill="#4a1a52" fill-opacity="0.9"/><circle cx="596.3" cy="479.5" r="0.67" fill="#4a1a52" fill-opacity="0.9"/><circle cx="593.2" cy="472.3" r="0.62" fill="#4a1a52" fill-opacity="0.9"/><circle cx="590.5" cy="472.1" r="0.80" fill="#4a1a52" fill-opacity="0.9"/><circle cx="590.4" cy="479.1" r="0.76" fill="#4a1a52" fill-opacity="0.9"/><circle cx="588.9" cy="501.1" r="0.46" fill="#4a1a52" fill-opacity="0.8"/><circle cx="588.9" cy="514.0" r="0.33" fill="#4a1a52" fill-opacity="0.8"/><circle cx="588.9" cy="499.0" r="0.38" fill="#4a1a52" fill-opacity="0.8"/><circle cx="590.4" cy="506.2" r="0.47" fill="#4a1a52" fill-opacity="0.8"/><circle cx="590.3" cy="517.5" r="0.43" fill="#4a1a52" fill-opacity="0.8"/><circle cx="568.1" cy="555.1" r="0.45" fill="#6b2946" fill-opacity="0.8"/><circle cx="568.9" cy="554.3" r="0.46" fill="#6b2946" fill-opacity="0.8"/><circle cx="566.8" cy="561.2" r="0.51" fill="#6b2946" fill-opacity="0.8"/><circle cx="570.8" cy="561.2" r="0.38" fill="#6b2946" fill-opacity="0.8"/></g>
<g stroke="#3a2a30" stroke-width="1" fill="none" stroke-dasharray="7 4.5">
<path d="M369.4 301.5 V344 H491"/>
</g>
<path d="M526 360.6 H574" stroke="#8f9aa6" stroke-width="1" fill="none" stroke-dasharray="4 3"/>
<rect x="365.6" y="289" width="7" height="6.6" fill="#2a2226"/>
<rect x="575.8" y="357.4" width="6.4" height="6.2" fill="#221a1e"/>

<g font-size="45.5" font-weight="900" text-anchor="middle">
<text x="210.4" y="386.5" fill="none" stroke="#3f2322" stroke-opacity="0.6" stroke-width="1.0" stroke-linejoin="round" textLength="177" lengthAdjust="spacing">数新城事</text>
<text x="209.5" y="385.5" fill="#fff" fill-opacity="0.10" stroke="#3f2322" stroke-opacity="0.9" stroke-width="0.95" stroke-linejoin="round" textLength="177" lengthAdjust="spacing">数新城事</text>
</g>

<g>
<path d="M550.5 392 L559.3 404 L568.5 393" fill="none" stroke="#e9a3a6" stroke-width="3.2" stroke-linejoin="round"/>
<path d="M552 392.5 H567" stroke="#c0505a" stroke-width="2"/>
<circle cx="559.3" cy="410.6" r="9.9" fill="#d9a220"/>
<circle cx="559.3" cy="410.6" r="7.4" fill="#e2ae2c"/>
<text x="559.3" y="415.3" text-anchor="middle" font-size="12" font-weight="700" fill="#f8e7b0" style="font-family:'Liberation Serif',serif">1</text>
<path d="M294.6 577.5 L304 588.5 L313.2 577.5" fill="none" stroke="#8fcaf2" stroke-width="2.6" stroke-linejoin="round"/>
<path d="M294.6 577.8 H313.2" stroke="#8fcaf2" stroke-width="2.4"/>
<circle cx="304" cy="595.3" r="10" fill="#b7bcd9"/>
<circle cx="304" cy="595.3" r="7.6" fill="#c3c8e2"/>
<text x="304" y="600.2" text-anchor="middle" font-size="13" font-weight="700" fill="#eef0fa">2</text>
<path d="M588.8 492 H609.4 L602.5 503 H595.8 Z" fill="#37a982"/>
<path d="M593.2 495 H605 L601.3 501 H597 Z" fill="#d8f0e4"/>
<circle cx="599.2" cy="511.3" r="9.2" fill="#b7632a"/>
<circle cx="599.2" cy="511.3" r="6.9" fill="#c4713a"/>
<text x="599.2" y="516" text-anchor="middle" font-size="12.5" font-weight="700" fill="#f7e3d0">3</text>
</g>

<g>
<text class="num k" transform="translate(147 311) scale(0.95 1)">154</text>
<text class="num k" transform="translate(263 413) scale(1.00 1)">97</text>
<text class="num k" transform="translate(162 472) scale(1.00 1)">0</text>
<text class="num k" transform="translate(369.7 266.6) scale(1.00 1)">340</text>
<text class="num k" transform="translate(609 224.5) scale(0.90 1)">141</text>
<text class="num k" transform="translate(516 278) scale(1.00 1)">878</text>
<text class="num k" transform="translate(584.5 278) scale(1.00 1)">548</text>
<text class="num k" transform="translate(574.4 312.4) scale(0.90 1)">116</text>
<text class="num k" transform="translate(598 361) scale(0.94 1)">70</text>
<text class="num k" transform="translate(492.3 376) scale(1.00 1)">407</text>
<text class="num w" transform="translate(524 405) scale(1.00 1)">5250</text>
<text class="num k" transform="translate(457 397.3) scale(1.00 1)">529</text>
<text class="num k" transform="translate(382.7 399) scale(0.95 1)">188</text>
<text class="num k" transform="translate(362.6 438.3) scale(0.95 1)">501</text>
<text class="num w" transform="translate(414 450.7) scale(0.95 1)">1060</text>
<text class="num w" transform="translate(475 445.7) scale(0.90 1)">1109</text>
<text class="num k" transform="translate(531.7 493) scale(1.00 1)">745</text>
<text class="num k" transform="translate(458.9 485.3) scale(0.95 1)">519</text>
<text class="num k" transform="translate(398 520.5) scale(1.00 1)">739</text>
<text class="num w" style="font-size:19.6px" transform="translate(338 509.8) scale(0.90 1)">2011</text>
<text class="num w" transform="translate(460 533) scale(0.95 1)">1904</text>
<text class="num k" transform="translate(515.4 523) scale(1.00 1)">796</text>
<text class="num w" transform="translate(396 558.2) scale(0.95 1)">1440</text>
<text class="num k" transform="translate(427 601) scale(0.95 1)">913</text>
<text class="num w" transform="translate(509 597) scale(0.95 1)">1605</text>
<text class="num w" style="font-size:18.8px" transform="translate(338.5 586.4) scale(1.07 1)">4499</text>
<text class="num w" style="font-size:18.2px" transform="translate(568 505.3) scale(0.95 1)">2140</text>
<text class="num k" style="font-size:20px" transform="translate(605.8 461) scale(1.06 1)">203</text>
<text class="num k" style="font-size:17.6px" transform="translate(438 669.8) scale(1.00 1)">475</text>
<text class="num w" transform="translate(548 450.3) rotate(90) scale(0.85 1)" x="0" y="0">1548</text>
<text class="num w" transform="translate(534 551) rotate(90) scale(0.96 1)" x="0" y="0">1409</text>
<text class="nm" x="147" y="325.7">新疆</text>
<text class="nm" x="263.7" y="428.2">青海</text>
<text class="nm" x="162.5" y="486.8">西藏</text>
<text class="nm" x="368.6" y="280.8">北京</text>
<text class="nm" x="610" y="239.5">黑龙江</text>
<text class="nm" x="514.6" y="292.3">内蒙古</text>
<text class="nm" x="603.3" y="290.8">吉林</text>
<text class="nm" x="576" y="326.6">辽宁</text>
<text class="nm" x="598" y="372.8">天津</text>
<text class="nm" x="487.5" y="386.8" style="font-size:11.6px">河</text>
<text class="nm" x="487.5" y="401.2" style="font-size:11.6px">北</text>
<text class="nm" x="519" y="418">山东</text>
<text class="nm" x="456.4" y="409.4">山西</text>
<text class="nm" x="384.5" y="409.6" style="font-size:11.2px">宁</text>
<text class="nm" x="384.5" y="421.6" style="font-size:11.2px">夏</text>
<text class="nm" x="364.6" y="450.6">甘肃</text>
<text class="nm" x="410.8" y="464.3">陕西</text>
<text class="nm" x="475" y="459.8">河南</text>
<text class="nm" x="527" y="473.2">安徽</text>
<text class="nm" x="469.7" y="499.4">湖北</text>
<text class="nm" x="425" y="492">重庆</text>
<text class="nm" x="336.6" y="522.5">四川</text>
<text class="nm" x="462.6" y="547">湖南</text>
<text class="nm" x="510.4" y="539.6">江西</text>
<text class="nm" x="393.8" y="571.3">贵州</text>
<text class="nm" x="425" y="614">广西</text>
<text class="nm" x="479.7" y="608.5">广东</text>
<text class="nm" x="333.8" y="603">云南</text>
<text class="nm" x="567.5" y="519.8" style="font-size:10.8px">浙江</text>
<text class="nm" x="610.5" y="473.2">上海</text>
<text class="nm" x="539.6" y="436.3" style="font-size:10.8px">江</text>
<text class="nm" x="539" y="446.8" style="font-size:10.8px">苏</text>
<text class="nm" x="557.6" y="540.8" style="font-size:11.6px">福</text>
<text class="nm" x="557.6" y="553.2" style="font-size:11.6px">建</text>
<text class="nm" x="437.8" y="688.6">海南</text>
<text class="nm" x="515.4" y="624">香港</text>
<text class="nm" x="489.8" y="632.6">澳门</text>
<text class="nm" x="589" y="576.3" style="font-size:11px">台</text>
<text class="nm" x="589.5" y="590.8" style="font-size:11px">湾</text>
</g>
<g>
<circle cx="171.4" cy="664.3" r="57" fill="#0b3ca6"/>
<text x="152.6" y="651.5" text-anchor="middle" font-size="39" font-weight="900" fill="#fff">数</text>
<text x="172" y="695.5" text-anchor="middle" font-size="39" font-weight="900" fill="#fff">新社</text>
<circle cx="193" cy="638.8" r="17.5" fill="#d93a2b"/>
<path d="M185 629.5 V646 H202" fill="none" stroke="#fff" stroke-width="1.6"/>
<path d="M188.5 642 L192.5 636.5 L195 639.5 L200 633 L202 635" fill="none" stroke="#fff" stroke-width="1.6" stroke-linejoin="round"/>
</g>

<g>
<rect x="98.0" y="758.5" width="41.5" height="15" fill="#ebc5bc"/>
<rect x="139.5" y="758.5" width="41.5" height="15" fill="#f5a750"/>
<rect x="181.0" y="758.5" width="41.5" height="15" fill="#b54a52"/>
<rect x="222.5" y="758.5" width="41.5" height="15" fill="#6b2946"/>
<rect x="264.0" y="758.5" width="41.5" height="15" fill="#4a1a52"/>
<rect x="305.5" y="758.5" width="41.5" height="15" fill="#1b1b36"/>
<rect x="98" y="758.5" width="83.0" height="15" fill="none" stroke="#5a4a4a" stroke-width="0.7"/>
<line x1="139.5" y1="758.5" x2="139.5" y2="773.5" stroke="#5a4a4a" stroke-width="0.7"/>
<text x="98.0" y="790" text-anchor="middle" font-size="11.5" fill="#4a4248">0</text>
<text x="139.5" y="790" text-anchor="middle" font-size="11.5" fill="#4a4248">100</text>
<text x="181.0" y="790" text-anchor="middle" font-size="11.5" fill="#4a4248">500</text>
<text x="222.5" y="790" text-anchor="middle" font-size="11.5" fill="#4a4248">1000</text>
<text x="264.0" y="790" text-anchor="middle" font-size="11.5" fill="#4a4248">1900</text>
<text x="305.5" y="790" text-anchor="middle" font-size="11.5" fill="#4a4248">2200</text>
<text x="347.0" y="790" text-anchor="middle" font-size="11.5" fill="#4a4248">5250</text>
</g>
<text x="95" y="823" font-size="15.8" fill="#3a3238">注：不包含港澳台数据</text>
<text x="95" y="849" font-size="15.8" fill="#3a3238">数据来源：卫健委</text>

</svg>
</body>
</html>
